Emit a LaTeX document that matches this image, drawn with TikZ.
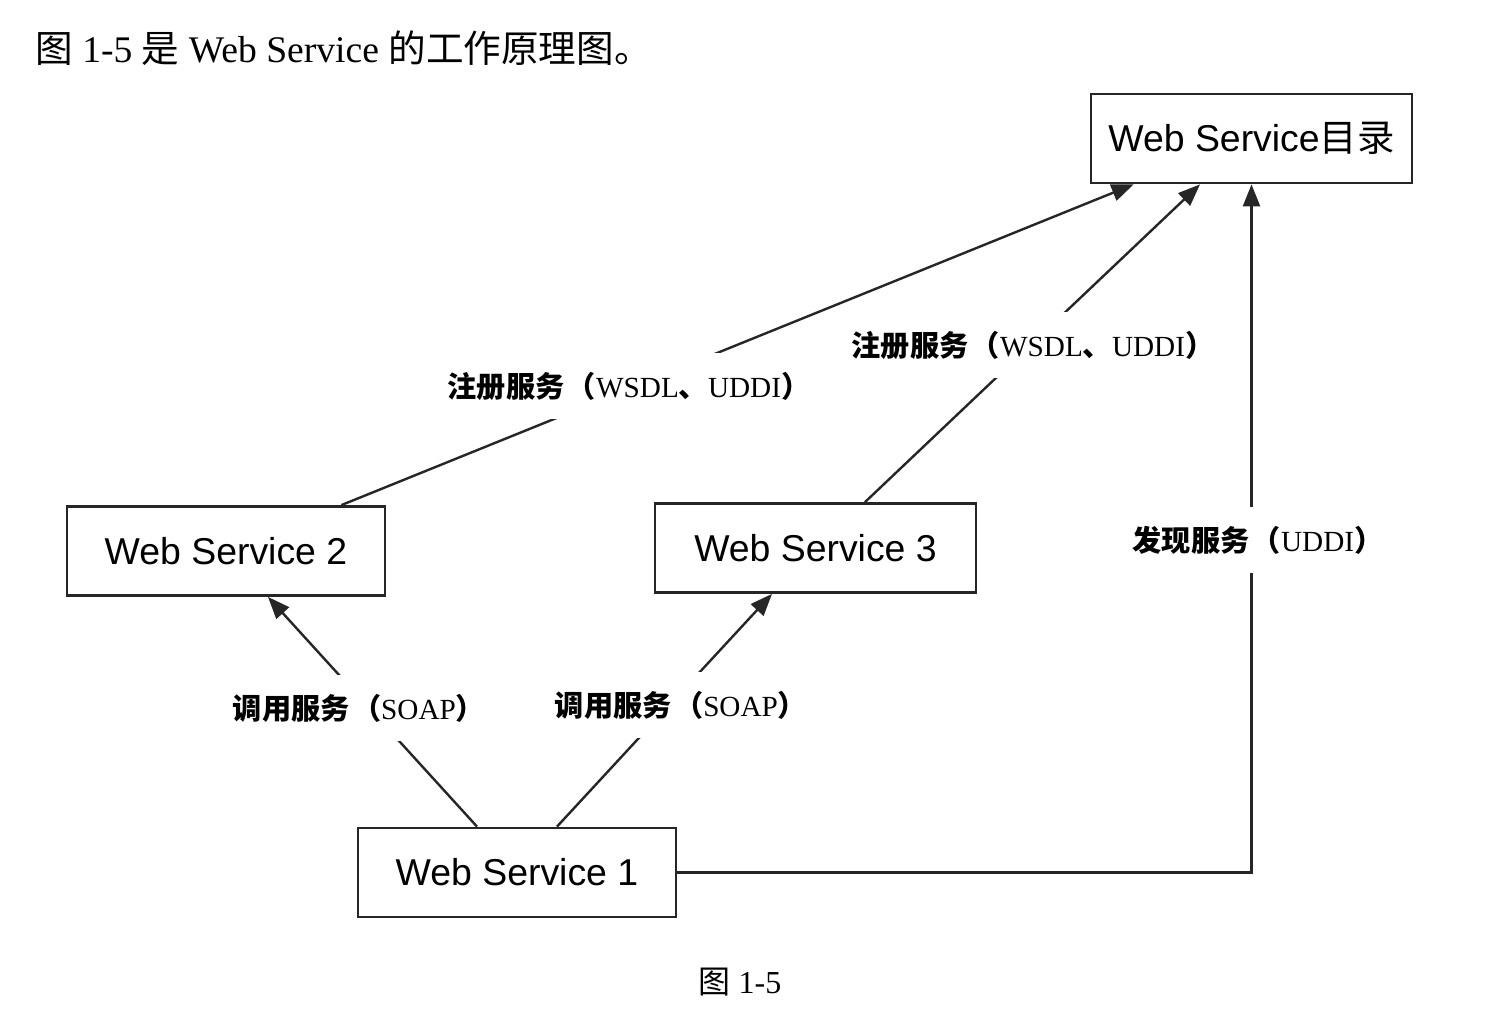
\documentclass[tikz,border=0pt]{standalone}
\usepackage{fontspec}
\setmainfont{Liberation Serif}
\newfontfamily\cjk{Noto Sans CJK SC}
\newfontfamily\sansf{Liberation Sans}
\usetikzlibrary{arrows.meta}
\newcommand{\zhb}[1]{{\cjk\bfseries #1}}
\newcommand{\lp}{\hspace{0.08em}\zhb{（}}
\begin{document}
\begin{tikzpicture}[x=0.5pt,y=-0.5pt,
  box/.style={draw=black!85, line width=1.4pt, minimum width=159pt, minimum height=44.5pt, inner sep=0pt, font=\sansf\fontsize{18.7}{20}\selectfont},
  conn/.style={draw=black!85, line width=1.2pt},
  arr/.style={conn, -{Triangle[length=11pt,width=8.5pt]}},
  lab/.style={fill=white, inner xsep=2pt, inner ysep=0pt, minimum height=33pt, font=\fontsize{14.6}{16}\selectfont}
]
\useasboundingbox[fill=white] (0,0) rectangle (1493,1026);

\node[box, minimum width=160.5pt] (dir) at (1251.5,138.5) {Web Service{\cjk 目录}};
\node[box] (ws2) at (226,551) {Web Service 2};
\node[box, minimum width=160.5pt] (ws3) at (815.5,548) {Web Service 3};
\node[box] (ws1) at (517,872.5) {Web Service 1};

\draw[arr] ([xshift=-22.5pt]ws2.north east) -- ([xshift=22pt]dir.south west);
\draw[arr] ([xshift=24.75pt]ws3.north) -- ([xshift=-25.75pt]dir.south);
\draw[arr] (ws1.east) -| (dir.south);
\draw[arr] ([xshift=-20pt]ws1.north) -- ([xshift=21pt]ws2.south);
\draw[arr] ([xshift=20pt]ws1.north) -- ([xshift=-21.75pt]ws3.south);

\node[lab] (l1) at (629,386.5) {\zhb{注册服务}\lp WSDL\zhb{、}UDDI\zhb{）}};
\node[lab] (l2) at (1033,345) {\zhb{注册服务}\lp WSDL\zhb{、}UDDI\zhb{）}};
\node[lab] (l3) at (1258,540) {\zhb{发现服务}\lp UDDI\zhb{）}};
\node[lab] (l4) at (359,708) {\zhb{调用服务}\lp SOAP\zhb{）}};
\node[lab] (l5) at (681,705) {\zhb{调用服务}\lp SOAP\zhb{）}};

\node[anchor=west, inner sep=0pt, font=\fontsize{18.8}{20}\selectfont] (cap) at (35,48) {{\cjk 图} 1-5 {\cjk 是} Web Service {\cjk 的工作原理图。}};
\node[font=\fontsize{16}{18}\selectfont] (fig) at (740,982) {{\cjk 图} 1-5};
\end{tikzpicture}
\end{document}
